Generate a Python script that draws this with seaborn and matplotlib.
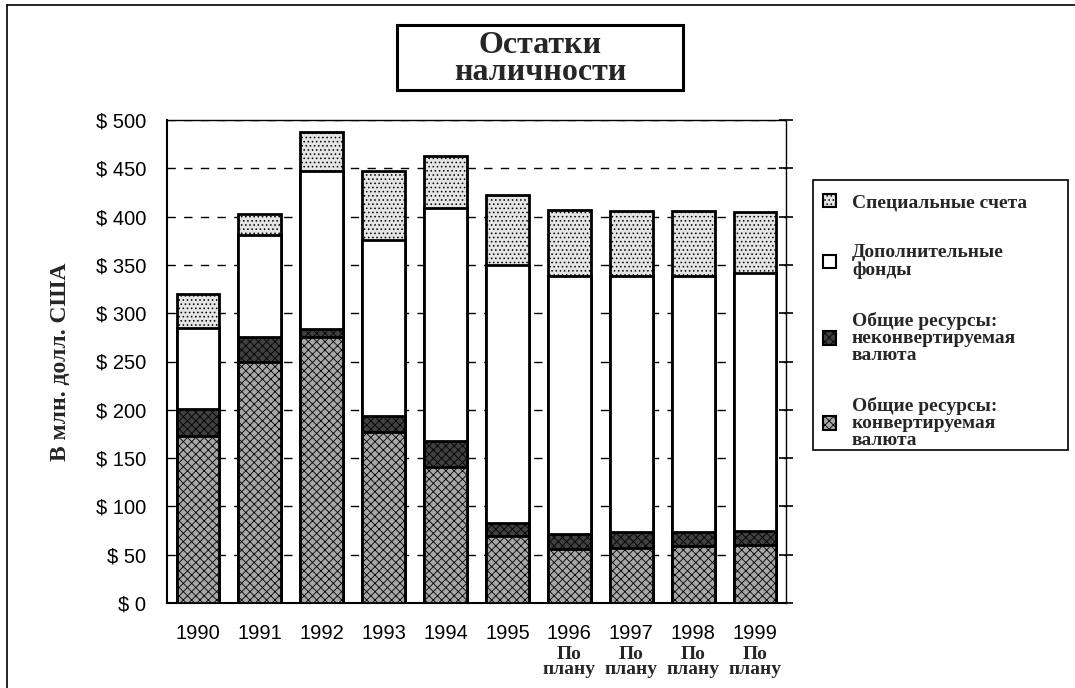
import matplotlib
matplotlib.use("Agg")
import matplotlib.pyplot as plt
import matplotlib.patches as mpatches
import matplotlib.transforms as mtransforms
import seaborn as sns
import pandas as pd
import numpy as np

# ---- data (млн. долл. США) ----
years = ["1990", "1991", "1992", "1993", "1994", "1995", "1996", "1997", "1998", "1999"]
plan_flags = [False, False, False, False, False, False, True, True, True, True]
conv = [173, 249, 275, 177, 141, 69, 56, 57, 59, 60]          # Общие ресурсы: конвертируемая валюта
nonconv = [28, 26, 9, 17, 27, 14, 15, 16, 15, 15]             # Общие ресурсы: неконвертируемая валюта
additional = [84, 106, 163, 182, 241, 267, 267, 265, 265, 267] # Дополнительные фонды
special = [35, 22, 41, 71, 54, 72, 69, 68, 67, 63]             # Специальные счета

series_names = ["Специальные счета", "Дополнительные\nфонды",
                "Общие ресурсы:\nнеконвертируемая\nвалюта",
                "Общие ресурсы:\nконвертируемая\nвалюта"]
y_ticks = [0, 50, 100, 150, 200, 250, 300, 350, 400, 450, 500]
y_tick_labels = ["$ %d" % v for v in y_ticks]
title_text = "Остатки\nналичности"
y_label = "В млн. долл. США"
plan_text = "По\nплану"

df = pd.DataFrame({"year": years, "conv": conv, "nonconv": nonconv,
                   "additional": additional, "special": special})
df["c1"] = df["conv"]
df["c2"] = df["c1"] + df["nonconv"]
df["c3"] = df["c2"] + df["additional"]
df["c4"] = df["c3"] + df["special"]

sns.set_theme(style="white")
plt.rcParams["hatch.linewidth"] = 0.6
SERIF = ["Liberation Serif", "DejaVu Serif"]
SANS = ["Liberation Sans", "DejaVu Sans"]

W, H = 1075, 688
fig = plt.figure(figsize=(W / 100, H / 100), dpi=100)
fig.patch.set_facecolor("white")

def fx(px):
    return px / W

def fy(py):
    return 1 - py / H

ax = fig.add_axes([fx(167), fy(603), fx(786) - fx(167), fy(120) - fy(603)])

styles = [
    ("c4", "#e4e4e4", "...."),
    ("c3", "white", None),
    ("c2", "#404040", "xxxx"),
    ("c1", "#a8a8a8", "xxxx"),
]
for col, fc, hatch in styles:
    sns.barplot(data=df, x="year", y=col, order=years, ax=ax, color=fc,
                saturation=1, width=0.69, edgecolor="black", linewidth=2.0,
                hatch=hatch, errorbar=None, zorder=3)

ax.set_xlim(-0.5, len(years) - 0.5)
ax.set_ylim(0, 500)
ax.set_yticks(y_ticks)
ax.set_yticklabels(y_tick_labels, fontfamily=SANS, fontsize=14.5, color="black")
ax.set_xticks(range(len(years)))
ax.set_xticklabels(years, fontfamily=SANS, fontsize=14.5, color="black")
ax.set_xticks(np.arange(-0.5, len(years), 1.0), minor=True)
ax.tick_params(axis="x", which="major", length=0, pad=15)
ax.tick_params(axis="x", which="minor", direction="inout", length=12, width=1.2, color="black")
ax.tick_params(axis="y", which="major", direction="inout", length=10, width=1.2, color="black",
               pad=10, right=True)
ax.set_xlabel("")
ax.set_ylabel(y_label, fontfamily=SERIF, fontweight="bold", fontsize=17, labelpad=18)

ax.yaxis.grid(True, linestyle=(0, (6, 6)), color="black", linewidth=1.0, zorder=0)
ax.xaxis.grid(False)
ax.set_axisbelow(True)
for side in ["left", "bottom"]:
    ax.spines[side].set_color("black")
    ax.spines[side].set_linewidth(1.5)
for side in ["top", "right"]:
    ax.spines[side].set_color("black")
    ax.spines[side].set_linewidth(1.0)
    ax.spines[side].set_linestyle((0, (1, 1)))

# "По плану" under planned years
trans = mtransforms.blended_transform_factory(ax.transData, ax.transAxes)
for i, flag in enumerate(plan_flags):
    if flag:
        ax.text(i, -0.089, plan_text, transform=trans, ha="center", va="top",
                fontfamily=SERIF, fontweight="bold", fontsize=14, linespacing=0.85)

# title box
fig.patches.append(mpatches.Rectangle((fx(397), fy(90)), fx(683) - fx(397), fy(25) - fy(90),
                                      transform=fig.transFigure, fill=False,
                                      edgecolor="black", linewidth=2.2))
fig.text(fx(540), fy(59), title_text, ha="center", va="center", fontfamily=SERIF,
         fontweight="bold", fontsize=23, linespacing=0.9)

# outer frame
fig.add_artist(plt.Line2D([fx(7), fx(7)], [fy(5), 0], transform=fig.transFigure, color="black", lw=1.2))
fig.add_artist(plt.Line2D([fx(7), 1], [fy(5), fy(5)], transform=fig.transFigure, color="black", lw=1.2))

# legend box
fig.patches.append(mpatches.Rectangle((fx(813), fy(450)), fx(1068) - fx(813), fy(180) - fy(450),
                                      transform=fig.transFigure, fill=False,
                                      edgecolor="black", linewidth=1.2))
handles = [mpatches.Patch(facecolor=styles[k][1], edgecolor="black", hatch=styles[k][2], linewidth=1.5)
           for k in range(4)]
leg = fig.legend(handles, series_names, loc="upper left",
                 bbox_to_anchor=(fx(815), fy(186)), frameon=False,
                 prop={"family": SERIF, "weight": "bold", "size": 14},
                 handlelength=0.7, handleheight=0.7, handletextpad=0.8,
                 labelspacing=1.7, borderaxespad=0)
for t in leg.get_texts():
    t.set_linespacing(1.0)

fig.savefig("out.png", dpi=100, facecolor="white")
